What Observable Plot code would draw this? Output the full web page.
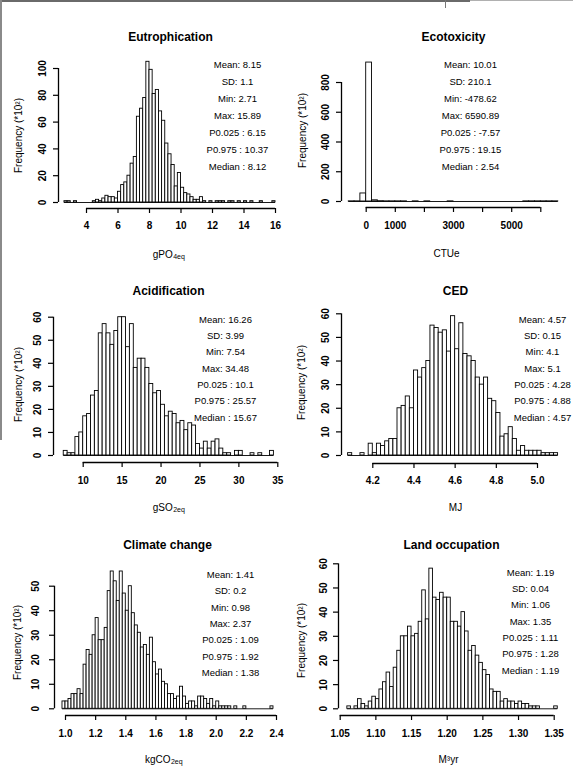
<!DOCTYPE html>
<html><head><meta charset="utf-8">
<script src="https://cdn.jsdelivr.net/npm/d3@7"></script>
<script src="https://cdn.jsdelivr.net/npm/@observablehq/plot@0.6"></script>
<style>
html,body{margin:0;padding:0;background:#fff;}
#root{position:relative;width:573px;height:776px;overflow:hidden;background:#fff;}
.panel{position:absolute;}
.panel svg{overflow:visible;}
.deco{position:absolute;}
</style></head>
<body><div id="root"></div>
<script>
// ---------- DATA ----------
const ylabelText = "Frequency (*10²)";

const eutroTitle = "Eutrophication";
const eutroStart = 2.6, eutroWidth = 0.2;
const eutroCounts = [1,1,0,1,0,0,0,0,0,1, 2,1,3,5,4,4,3,8,13,15, 20,29,34,64,70,78,105,99,81,84, 68,61,44,36,28,12,22,11,7,6, 4,2,2,4,1,0,1,0,1,1, 1,0,1,1,0,1,0,1,0,1, 0,0,1,0,0,0,1];
const eutroStats = ["Mean: 8.15","SD: 1.1","Min: 2.71","Max: 15.89","P0.025 : 6.15","P0.975 : 10.37","Median : 8.12"];
const eutroXTicks = [4,6,8,10,12,14,16];
const eutroXTickLabels = ["4","6","8","10","12","14","16"];
const eutroYTicks = [0,20,40,60,80,100];

const ecoTitle = "Ecotoxicity";
const ecoStart = -600, ecoWidth = 200;
const ecoCounts = [1,1,54,934,8,2,1,1,1,1, 0,1,0,1,0,0,0,1,0,0, 0,0,0,0,0,0,0,0,0,0, 1,1,1,1,1,1];
const ecoStats = ["Mean: 10.01","SD: 210.1","Min: -478.62","Max: 6590.89","P0.025 : -7.57","P0.975 : 19.15","Median : 2.54"];
const ecoXTicks = [0,1000,2000,3000,4000,5000,6000];
const ecoXTickLabels = ["0","1000","","3000","","5000",""];
const ecoYTicks = [0,200,400,600,800];

const acidTitle = "Acidification";
const acidStart = 7.5, acidWidth = 0.5;
const acidCounts = [2,1,1,8,10,17,18,26,28,53, 57,53,48,54,60,60,47,57,38,42, 42,38,31,27,28,22,17,19,18,14, 15,11,14,13,5,3,6,3,6,7, 3,1,1,0,2,2,0,0,1,0, 1,0,0,2];
const acidStats = ["Mean: 16.26","SD: 3.99","Min: 7.54","Max: 34.48","P0.025 : 10.1","P0.975 : 25.57","Median : 15.67"];
const acidXTicks = [10,15,20,25,30,35];
const acidXTickLabels = ["10","15","20","25","30","35"];
const acidYTicks = [0,10,20,30,40,50,60];

const cedTitle = "CED";
const cedStart = 4.08, cedWidth = 0.02;
const cedCounts = [1,0,0,1,0,5,1,5,4,6, 7,7,20,21,25,20,36,33,37,40, 55,54,52,53,44,59,45,56,43,42, 40,33,30,33,24,23,18,8,9,12, 7,2,4,2,2,2,2,1,1,1, 1];
const cedStats = ["Mean: 4.57","SD: 0.15","Min: 4.1","Max: 5.1","P0.025 : 4.28","P0.975 : 4.88","Median : 4.57"];
const cedXTicks = [4.2,4.4,4.6,4.8,5.0];
const cedXTickLabels = ["4.2","4.4","4.6","4.8","5.0"];
const cedYTicks = [0,10,20,30,40,50,60];

const climTitle = "Climate change";
const climStart = 0.98, climWidth = 0.02;
const climCounts = [3,3,4,6,6,8,6,18,24,22, 30,37,28,28,33,48,56,52,44,56, 47,40,50,39,34,31,25,26,22,29, 19,14,16,11,10,6,6,4,5,9, 5,2,3,3,1,5,5,4,2,4, 1,3,1,1,1,1,0,1,0,0, 1,0,0,0,0,0,0,0,0,1];
const climStats = ["Mean: 1.41","SD: 0.2","Min: 0.98","Max: 2.37","P0.025 : 1.09","P0.975 : 1.92","Median : 1.38"];
const climXTicks = [1.0,1.2,1.4,1.6,1.8,2.0,2.2,2.4];
const climXTickLabels = ["1.0","1.2","1.4","1.6","1.8","2.0","2.2","2.4"];
const climYTicks = [0,10,20,30,40,50];

const landTitle = "Land occupation";
const landStart = 1.06, landWidth = 0.005;
const landCounts = [1,0,1,4,2,1,3,5,4,8, 11,15,9,17,24,30,30,34,30,31, 36,49,37,58,46,45,48,46,46,36, 36,34,40,32,24,26,22,19,16,14, 8,7,7,3,4,3,3,2,3,2, 2,1,1,1,0,0,0,0,1];
const landStats = ["Mean: 1.19","SD: 0.04","Min: 1.06","Max: 1.35","P0.025 : 1.11","P0.975 : 1.28","Median : 1.19"];
const landXTicks = [1.05,1.10,1.15,1.20,1.25,1.30,1.35];
const landXTickLabels = ["1.05","1.10","1.15","1.20","1.25","1.30","1.35"];
const landYTicks = [0,10,20,30,40,50,60];

// ---------- LAYOUT ----------
const FONT = '"Liberation Sans", Arial, Helvetica, sans-serif';
const panels = [
  {title: eutroTitle, xlab: ["gPO","4eq"], start: eutroStart, width: eutroWidth, counts: eutroCounts, stats: eutroStats,
   xTicks: eutroXTicks, xTickLabels: eutroXTickLabels, yTicks: eutroYTicks,
   L: {box:[0,0,286,258], xMap:[4,86,16,275], yMap:[0,202,100,68], frame:[58,284,56,208],
       title:[170,32], stats:[237,62,17], xlab:[168,250], ylab:[14,135], xtl:228, ytl:42}},
  {title: ecoTitle, xlab: ["CTUe",""], start: ecoStart, width: ecoWidth, counts: ecoCounts, stats: ecoStats,
   xTicks: ecoXTicks, xTickLabels: ecoXTickLabels, yTicks: ecoYTicks,
   L: {box:[287,0,286,258], xMap:[0,365.7,6000,540.3], yMap:[0,201,800,82], frame:[341,566,56,207],
       title:[453,32], stats:[470,62,17], xlab:[446,249], ylab:[298,130], xtl:228, ytl:325}},
  {title: acidTitle, xlab: ["gSO","2eq"], start: acidStart, width: acidWidth, counts: acidCounts, stats: acidStats,
   xTicks: acidXTicks, xTickLabels: acidXTickLabels, yTicks: acidYTicks,
   L: {box:[0,258,286,258], xMap:[10,82.7,35,277.3], yMap:[0,455,60,316.7], frame:[53,282,311,462],
       title:[168,286], stats:[225,317,16.3], xlab:[168,503], ylab:[14,384], xtl:483, ytl:37}},
  {title: cedTitle, xlab: ["MJ",""], start: cedStart, width: cedWidth, counts: cedCounts, stats: cedStats,
   xTicks: cedXTicks, xTickLabels: cedXTickLabels, yTicks: cedYTicks,
   L: {box:[287,258,286,258], xMap:[4.2,372.3,5.0,537], yMap:[0,455,60,313.3], frame:[341,570,311,463],
       title:[455,286], stats:[542,317,16.3], xlab:[455,503], ylab:[297,382], xtl:483, ytl:325}},
  {title: climTitle, xlab: ["kgCO","2eq"], start: climStart, width: climWidth, counts: climCounts, stats: climStats,
   xTicks: climXTicks, xTickLabels: climXTickLabels, yTicks: climYTicks,
   L: {box:[0,516,286,260], xMap:[1.0,65,2.4,276], yMap:[0,708.3,50,585.7], frame:[54,282,565,715],
       title:[167,540], stats:[230,572,16.4], xlab:[163,755], ylab:[13,642], xtl:736, ytl:35}},
  {title: landTitle, xlab: ["M³yr",""], start: landStart, width: landWidth, counts: landCounts, stats: landStats,
   xTicks: landXTicks, xTickLabels: landXTickLabels, yTicks: landYTicks,
   L: {box:[287,516,286,260], xMap:[1.05,339.7,1.35,553.7], yMap:[0,708.3,60,563.3], frame:[338,566,562,715],
       title:[451,540], stats:[530,570,16.3], xlab:[448,755], ylab:[297,640], xtl:736, ytl:323}}
];

const canvas = document.createElement("canvas");
const ctx = canvas.getContext("2d");
function tw(s, size, weight) { ctx.font = `${weight || "normal"} ${size}px ${FONT}`; return ctx.measureText(s).width; }
function inv([v1,p1,v2,p2]) { const k = (p2-p1)/(v2-v1); return p => v1 + (p-p1)/k; }

const root = document.getElementById("root");
function deco(l,t,w,h,c){ const d=document.createElement("div"); d.className="deco"; Object.assign(d.style,{left:l+"px",top:t+"px",width:w+"px",height:h+"px",background:c}); root.appendChild(d); }

for (const P of panels) {
  const L = P.L;
  const [bl, bt, bw, bh] = L.box;
  const [fl, fr, ft, fb] = L.frame;
  const xi = inv(L.xMap), yi = inv(L.yMap);
  const xDom = [xi(fl), xi(fr)];
  const yDom = [yi(fb), yi(ft)];
  const bins = P.counts.map((c, i) => ({x1: P.start + i*P.width, x2: P.start + (i+1)*P.width, y1: 0, y2: c}));
  const nonzero = bins.filter(b => b.y2 > 0);
  const xt = P.xTicks.map((v, i) => ({v, t: P.xTickLabels[i]}));
  const yt = P.yTicks.map(v => ({v, t: String(v)}));
  const statFS = 9.5, step = L.stats[2];
  const statText = P.stats.join("\n");
  const statCenterY = L.stats[1] + step * (P.stats.length - 1) / 2;

  const mainFS = 10, subFS = 7;
  const w1 = tw(P.xlab[0], mainFS), w2 = P.xlab[1] ? tw(P.xlab[1], subFS) : 0;
  const split = L.xlab[0] - (w1 + w2) / 2 + w1;

  const marks = [
    Plot.ruleY([{y: 0, x1: bins[0].x1, x2: bins[bins.length-1].x2}], {y: "y", x1: "x1", x2: "x2", stroke: "black", strokeWidth: 0.9}),
    Plot.rect(nonzero, {x1: "x1", x2: "x2", y1: "y1", y2: "y2", fill: "white", stroke: "black", strokeWidth: 0.9}),
    Plot.axisX({ticks: P.xTicks, tickSize: 5, tickFormat: () => "", label: null, anchor: "bottom", strokeWidth: 1.2}),
    Plot.axisY({ticks: P.yTicks, tickSize: 5, tickFormat: () => "", label: null, anchor: "left", strokeWidth: 1.2}),
    Plot.ruleY([{y: yDom[0], x1: P.xTicks[0], x2: P.xTicks[P.xTicks.length-1]}], {y: "y", x1: "x1", x2: "x2", stroke: "black", strokeWidth: 1.3}),
    Plot.ruleX([{x: xDom[0], y1: P.yTicks[0], y2: P.yTicks[P.yTicks.length-1]}], {x: "x", y1: "y1", y2: "y2", stroke: "black", strokeWidth: 1.3}),
    Plot.text(xt, {x: "v", text: "t", frameAnchor: "bottom", dy: L.xtl - fb, fontSize: 10, fontWeight: "bold", fill: "black"}),
    Plot.text(yt, {y: "v", text: "t", frameAnchor: "left", dx: L.ytl - fl, rotate: -90, textAnchor: "middle", fontSize: 10, fontWeight: "bold", fill: "black"}),
    Plot.text([P.title], {text: d => d, frameAnchor: "top-left", dx: L.title[0] - fl, dy: L.title[1] - ft, textAnchor: "middle", fontSize: 12, fontWeight: "bold", fill: "black"}),
    Plot.text([statText], {text: d => d, frameAnchor: "top-left", dx: L.stats[0] - fl, dy: statCenterY - ft, textAnchor: "middle", lineAnchor: "middle", lineHeight: step / statFS, fontSize: statFS, fill: "black"}),
    Plot.text([ylabelText], {text: d => d, frameAnchor: "top-left", dx: L.ylab[0] - fl, dy: L.ylab[1] - ft, rotate: -90, textAnchor: "middle", fontSize: 10, fill: "black"}),
    Plot.text([P.xlab[0]], {text: d => d, frameAnchor: "top-left", dx: split - fl, dy: L.xlab[1] - ft, textAnchor: "end", fontSize: mainFS, fill: "black"})
  ];
  if (P.xlab[1]) {
    marks.push(Plot.text([P.xlab[1]], {text: d => d, frameAnchor: "top-left", dx: split - fl + 0.5, dy: L.xlab[1] - ft + 3.5, textAnchor: "start", fontSize: subFS, fill: "black"}));
  }

  const svg = Plot.plot({
    width: bw, height: bh,
    marginLeft: fl - bl, marginRight: bl + bw - fr, marginTop: ft - bt, marginBottom: bt + bh - fb,
    x: {domain: xDom, axis: null},
    y: {domain: yDom, axis: null},
    style: {fontFamily: FONT, background: "transparent", color: "black", overflow: "visible"},
    marks
  });
  const div = document.createElement("div");
  div.className = "panel";
  div.style.left = bl + "px"; div.style.top = bt + "px";
  div.appendChild(svg);
  root.appendChild(div);
}
deco(0,0,470,2,"#6a6a6a");
deco(470,0,103,1,"#b0b0b0");
deco(0,0,2,440,"#8a8a8a");
deco(445,0,1,8,"#777");
</script>
</body></html>
